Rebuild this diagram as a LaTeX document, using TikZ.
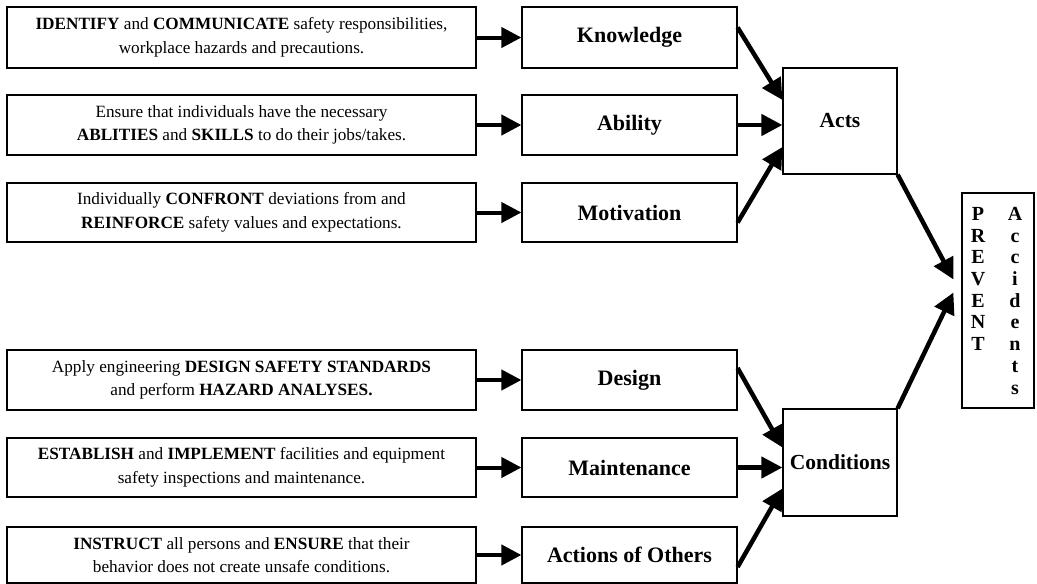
\documentclass[tikz,border=0pt]{standalone}
\usepackage{fontspec}
\setmainfont{Liberation Serif}
\usetikzlibrary{arrows.meta,calc}
\tikzset{
  box/.style={draw, line width=1.2pt, inner sep=0pt, align=center},
  lbox/.style={box, minimum width=469pt, font=\fontsize{17.2}{23.5}\selectfont},
  mbox/.style={box, minimum width=215pt, font=\fontsize{22}{24}\selectfont\bfseries},
  cbox/.style={box, minimum width=114pt, font=\fontsize{21.5}{24}\selectfont\bfseries},
  arr/.style={line width=4.5pt, -{Triangle[length=21pt,width=21pt]}},
  harr/.style={line width=4pt, -{Triangle[length=20pt,width=20pt]}},
  vletters/.style={font=\fontsize{20}{21.7}\selectfont\bfseries, align=center, anchor=north, inner sep=0pt}
}
\begin{document}
\begin{tikzpicture}[x=1pt,y=-1pt]
\useasboundingbox (0,0) rectangle (1037,584);
% left boxes
\node[lbox, minimum height=61pt] (l1) at (241.5,37.5) {\textbf{IDENTIFY} and \textbf{COMMUNICATE} safety responsibilities,\\ workplace hazards and precautions.};
\node[lbox, minimum height=60pt] (l2) at (241.5,125) {Ensure that individuals have the necessary\\ \textbf{ABLITIES} and \textbf{SKILLS} to do their jobs/takes.};
\node[lbox, minimum height=59pt] (l3) at (241.5,212.5) {Individually \textbf{CONFRONT} deviations from and\\ \textbf{REINFORCE} safety values and expectations.};
\node[lbox, minimum height=60pt] (l4) at (241.5,380) {Apply engineering \textbf{DESIGN SAFETY STANDARDS}\\ and perform \textbf{HAZARD ANALYSES.}};
\node[lbox, minimum height=59pt] (l5) at (241.5,467.5) {\textbf{ESTABLISH} and \textbf{IMPLEMENT} facilities and equipment\\ safety inspections and maintenance.};
\node[lbox, minimum height=56pt] (l6) at (241.5,555) {\textbf{INSTRUCT} all persons and \textbf{ENSURE} that their\\ behavior does not create unsafe conditions.};
% middle boxes
\node[mbox, minimum height=61pt] (m1) at (629.5,37.5) {Knowledge};
\node[mbox, minimum height=60pt] (m2) at (629.5,125) {Ability};
\node[mbox, minimum height=59pt] (m3) at (629.5,212.5) {Motivation};
\node[mbox, minimum height=60pt] (m4) at (629.5,380) {Design};
\node[mbox, minimum height=59pt] (m5) at (629.5,467.5) {Maintenance};
\node[mbox, minimum height=56pt] (m6) at (629.5,555) {Actions of Others};
% acts and conditions
\node[cbox, minimum height=106pt] (acts) at (840,121) {Acts};
\node[cbox, minimum height=107pt] (cond) at (840,462.5) {Conditions};
% prevent box
\node[box, minimum width=72pt, minimum height=215pt] (prev) at (998,300.5) {};
\node[vletters] (pw) at (978,207) {P\\R\\E\\V\\E\\N\\T};
\node[vletters] (acc) at (1015,207) {A\\c\\c\\i\\d\\e\\n\\t\\s};
% horizontal arrows
\foreach \i in {1,...,6} {
  \draw[harr] (l\i.east) -- (m\i.west);
}
% into Acts
\draw[arr] ($(m1.east)+(0,-10)$) -- ($(acts.west)+(0,-21)$);
\draw[arr] (m2.east) -- (m2.east -| acts.west);
\draw[arr] ($(m3.east)+(0,10)$) -- ($(acts.west)+(0,26)$);
% into Conditions
\draw[arr] ($(m4.east)+(0,-12)$) -- ($(cond.west)+(0,-15)$);
\draw[arr] (m5.east) -- (m5.east -| cond.west);
\draw[arr] ($(m6.east)+(0,12)$) -- ($(cond.west)+(0,26)$);
% into Prevent
\draw[arr] (acts.south east) -- ($(prev.west)+(-8,-21)$);
\draw[arr] (cond.north east) -- ($(prev.west)+(-8,-8)$);
\end{tikzpicture}
\end{document}
